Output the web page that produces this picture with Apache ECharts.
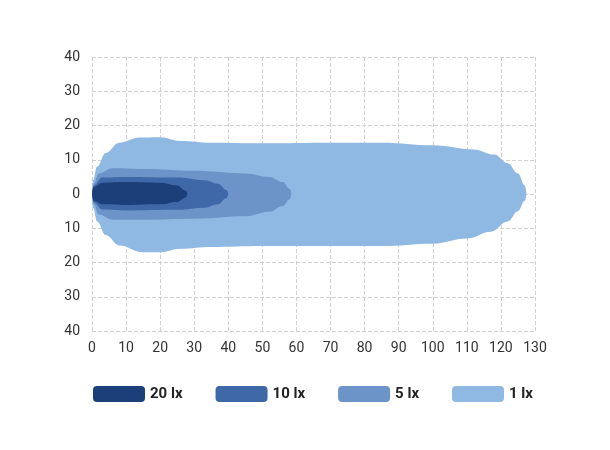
<!DOCTYPE html><html><head><meta charset="utf-8"><script src="https://cdn.jsdelivr.net/npm/echarts@6/dist/echarts.min.js"></script></head><body style="margin:0"><div id="c" style="width:610px;height:450px"></div><script>
const names=['1 lx','5 lx','10 lx','20 lx'];
const colors=['#8fb8e2','#6d94c8','#3f68a8','#1b3f78'];
const up1=[[0,0],[0.3,4],[1.5,8],[4,12],[8,15],[14,16.5],[20,16.6],[26,15.5],[35,15],[50,14.8],[70,15],[85,15],[100,14.2],[112,13],[118,11.5],[122,9],[125,6],[127,2.5],[127.5,0]];
const lo1=[[0,0],[0.3,-4],[1.5,-8],[4,-12],[8,-15],[15,-17],[20,-17],[26,-16],[35,-15.5],[50,-15.2],[70,-15.2],[85,-15.2],[100,-14.5],[110,-13],[117,-11],[122,-8],[125,-5],[127,-2],[127.5,0]];
const up5=[[0,0],[0.5,3],[2,6],[6,7.5],[15,7.3],[30,6.8],[45,6],[52,5],[56,3.5],[58,1.5],[58.5,0]];
const lo5=[[0,0],[0.5,-3],[2,-6],[6,-7.5],[15,-7.5],[30,-7.2],[45,-6.5],[52,-5.2],[56,-3.5],[58,-1.5],[58.5,0]];
const up10=[[0,0],[0.5,2.5],[3,4.8],[10,5],[25,4.8],[33,4],[37,3],[39.5,1.2],[40,0]];
const lo10=[[0,0],[0.5,-2.5],[3,-4.5],[10,-4.8],[25,-4.6],[33,-4],[37,-3],[39.5,-1.2],[40,0]];
const up20=[[0,0],[0.5,2],[3,3.3],[10,3.5],[20,3.3],[25,2.5],[27.5,1],[28,0]];
const lo20=[[0,0],[0.5,-2],[3,-3],[10,-3.2],[20,-3],[25,-2.3],[27.5,-1],[28,0]];
const halves=[[up1,lo1],[up5,lo5],[up10,lo10],[up20,lo20]];
const series=[];
halves.forEach((h,i)=>h.forEach(d=>series.push({type:'line',name:names[i],data:d,smooth:0.4,smoothMonotone:'x',showSymbol:false,lineStyle:{width:0},areaStyle:{color:colors[i],opacity:1},itemStyle:{color:colors[i]},z:2+i,silent:true})));
const grid={type:'dashed',color:'#d0d0d0'};
const lab={fontFamily:'Roboto',fontSize:14,color:'#333'};
echarts.init(document.getElementById('c')).setOption({animation:false,
grid:{left:92,right:75,top:57,bottom:119},
xAxis:{type:'value',min:0,max:130,interval:10,axisLine:{show:false},axisTick:{show:false},splitLine:{lineStyle:grid},axisLabel:{...lab,margin:10}},
yAxis:{type:'value',min:-40,max:40,interval:10,axisLine:{show:false},axisTick:{show:false},splitLine:{lineStyle:grid},axisLabel:{...lab,margin:12,formatter:v=>Math.abs(v)}},
legend:{data:['20 lx','10 lx','5 lx','1 lx'],left:88,top:381,itemWidth:52,itemHeight:16,itemGap:33,icon:'roundRect',textStyle:{fontFamily:'Roboto',fontSize:15,fontWeight:'bold',color:'#222'}},
series});
</script></body></html>
